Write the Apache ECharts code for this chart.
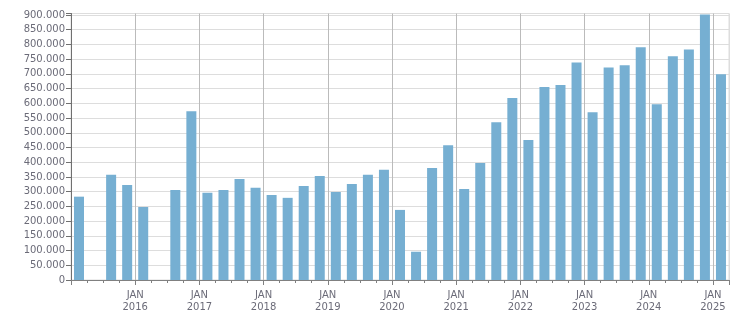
<!DOCTYPE html>
<html>
<head>
<meta charset="utf-8">
<script src="https://cdn.jsdelivr.net/npm/echarts@6/dist/echarts.min.js"></script>
<style>
html,body{margin:0;padding:0;background:#fff;}
#chart{width:751px;height:313px;}
</style>
</head>
<body>
<div id="chart"></div>
<script>
// Quarterly categories (Q1 2015 .. Q1 2025)
const quarters = [
  '2015-Q1','2015-Q2','2015-Q3','2015-Q4',
  '2016-Q1','2016-Q2','2016-Q3','2016-Q4',
  '2017-Q1','2017-Q2','2017-Q3','2017-Q4',
  '2018-Q1','2018-Q2','2018-Q3','2018-Q4',
  '2019-Q1','2019-Q2','2019-Q3','2019-Q4',
  '2020-Q1','2020-Q2','2020-Q3','2020-Q4',
  '2021-Q1','2021-Q2','2021-Q3','2021-Q4',
  '2022-Q1','2022-Q2','2022-Q3','2022-Q4',
  '2023-Q1','2023-Q2','2023-Q3','2023-Q4',
  '2024-Q1','2024-Q2','2024-Q3','2024-Q4',
  '2025-Q1'
];
const values = [
  283000, null, 357000, 323000,
  248000, null, 306000, 573000,
  296000, 306000, 343000, 313000,
  289000, 279000, 319000, 353000,
  299000, 326000, 357000, 374000,
  238000, 96000, 380000, 458000,
  309000, 397000, 536000, 618000,
  475000, 655000, 662000, 739000,
  570000, 722000, 729000, 790000,
  597000, 760000, 783000, 902000,
  699000
];
const yearLabels = ['2015','2016','2017','2018','2019','2020','2021','2022','2023','2024','2025'];
const monthLabel = 'JAN';
const yTickStep = 50000;
const yMax = 905000;

const font = 'DejaVu Sans';
const textColor = '#6b6b78';

function fmt(v){
  return String(Math.round(v)).replace(/\B(?=(\d{3})+(?!\d))/g, '.');
}

const barData = values.map((v, i) => [i + 0.5, v]);
const nQ = quarters.length;
const splitColors = [];
for (let k = 0; k <= Math.floor(nQ/4); k++) splitColors.push('#bbbbbb');
splitColors.push('#dddddd');

const chart = echarts.init(document.getElementById('chart'), null, {renderer:'canvas'});
chart.setOption({
  animation: false,
  grid: {left: 71, right: 22, top: 13.5, bottom: 32.7, show: true, borderColor: '#dddddd', borderWidth: 1},
  xAxis: [
    {
      type: 'value', min: 0, max: nQ, interval: 4,
      axisLine: {show: true, lineStyle: {color: '#808080', width: 1}},
      axisTick: {show: true, length: 5, lineStyle: {color: '#808080'}},
      axisLabel: {
        margin: 9, fontFamily: font, fontSize: 10, color: textColor, lineHeight: 12,
        formatter: function(v){
          if (v <= 0 || v >= nQ || v % 4 !== 0) return '';
          return monthLabel + '\n' + yearLabels[v/4];
        }
      },
      splitLine: {show: true, lineStyle: {color: splitColors, width: 1}}
    },
    {
      type: 'value', min: 0, max: nQ, interval: 1, position: 'bottom',
      axisLine: {show: false},
      axisTick: {show: true, length: 3, lineStyle: {color: '#808080'}},
      axisLabel: {show: false},
      splitLine: {show: false}
    }
  ],
  yAxis: {
    type: 'value', min: 0, max: yMax, interval: yTickStep,
    axisLine: {show: true, lineStyle: {color: '#707070', width: 1}},
    axisTick: {show: true, length: 5, lineStyle: {color: '#707070'}},
    axisLabel: {
      margin: 6, fontFamily: font, fontSize: 10, color: textColor,
      formatter: function(v){ return (v % yTickStep === 0) ? fmt(v) : ''; }
    },
    splitLine: {show: true, lineStyle: {color: '#dddddd', width: 1}}
  },
  series: [{
    type: 'bar', xAxisIndex: 0, data: barData, barWidth: 10,
    itemStyle: {color: '#76afd2'}
  }]
});
</script>
</body>
</html>
